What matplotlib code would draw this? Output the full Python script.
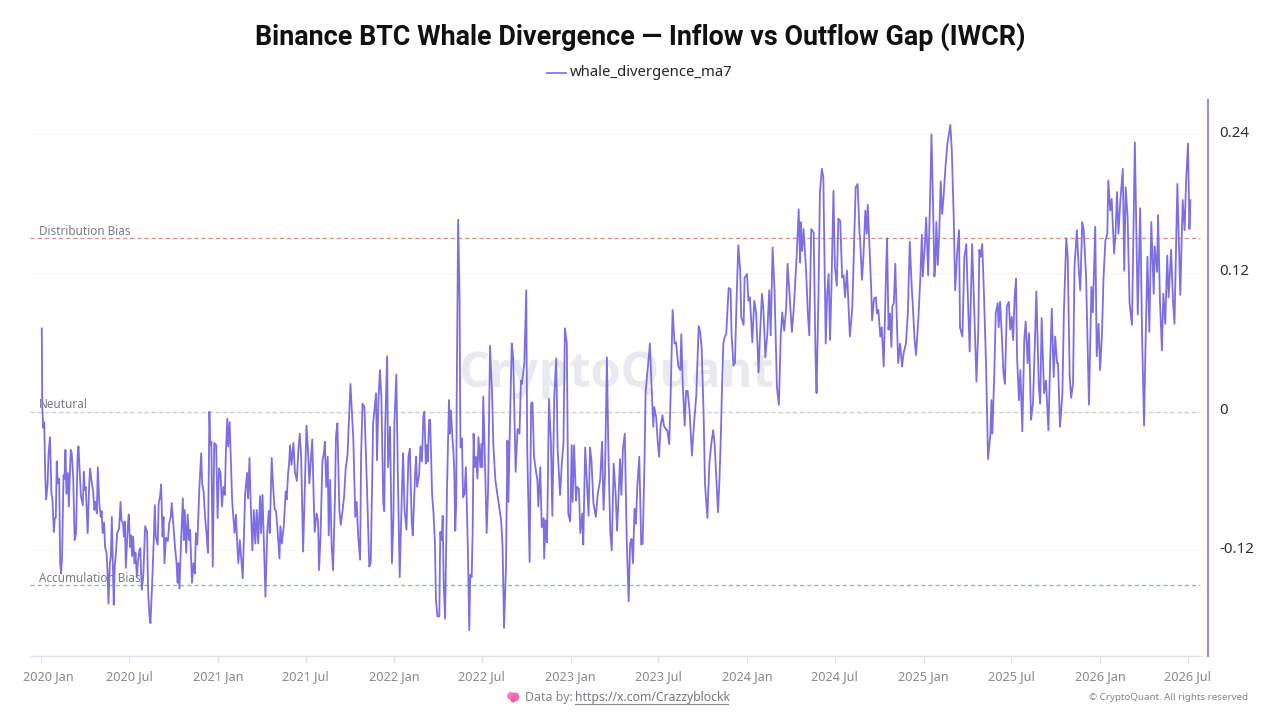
import matplotlib
matplotlib.use("Agg")
import matplotlib.pyplot as plt
import matplotlib.transforms as mtrans
from matplotlib.lines import Line2D
from matplotlib.patches import Ellipse
import pandas as pd

# Day offset from 2020-01-01 and the 7-day averaged whale divergence reading.
readings_2020_2022 = [
(1,.072),(2,.004),(4,-.014),(6,-.009),(8,-.053),(10,-.076),(13,-.063),(15,-.036),(18,-.022),(21,-.071),(23,-.075),(26,-.104),
(28,-.092),(30,-.092),(32,-.043),(34,-.062),(37,-.058),(39,-.131),(41,-.140),(43,-.125),(46,-.055),(48,-.058),(50,-.033),(52,-.071),
(55,-.053),(57,-.082),(59,-.056),(61,-.033),(63,-.036),(66,-.056),(69,-.111),(72,-.105),(75,-.039),(77,-.030),(79,-.048),(82,-.073),
(86,-.081),(88,-.052),(90,-.068),(92,-.065),(96,-.105),(99,-.065),(101,-.049),(104,-.060),(107,-.068),(110,-.085),(112,-.078),(115,-.088),
(117,-.048),(120,-.079),(123,-.091),(125,-.086),(127,-.105),(130,-.096),(132,-.117),(135,-.122),(137,-.137),(139,-.166),(142,-.131),(144,-.125),
(146,-.091),(148,-.131),(150,-.167),(152,-.134),(155,-.120),(157,-.105),(161,-.101),(164,-.078),(166,-.094),(169,-.096),(171,-.108),(173,-.095),
(175,-.135),(179,-.099),(181,-.089),(184,-.117),(186,-.107),(188,-.125),(190,-.108),(193,-.131),(195,-.122),(198,-.143),(200,-.130),(203,-.120),
(205,-.118),(206,-.131),(208,-.154),(211,-.143),(215,-.099),(219,-.104),(221,-.154),(224,-.177),(226,-.183),(230,-.143),(233,-.108),(235,-.081),
(237,-.108),(241,-.115),(243,-.079),(246,-.073),(248,-.063),(251,-.108),(253,-.091),(255,-.131),(258,-.109),(262,-.112),(265,-.096),(268,-.091),
(270,-.079),(273,-.096),(277,-.118),(280,-.131),(282,-.148),(284,-.131),(286,-.153),(290,-.105),(293,-.075),(295,-.111),(297,-.085),(300,-.122),
(303,-.089),(306,-.111),(308,-.102),(312,-.148),(315,-.131),(318,-.140),(320,-.105),(323,-.115),(327,-.068),(331,-.036),(333,-.062),(336,-.069),
(339,-.091),(342,-.105),(345,-.122),(348,0),(350,-.029),(352,-.026),(355,-.134),(358,-.027),(362,-.029),(365,-.092),(368,-.049),(371,-.053),
(374,-.082),(377,-.065),(380,-.072),(382,-.037),(385,-.006),(387,-.030),(390,-.009),(393,-.048),(395,-.076),(400,-.105),(403,-.089),(406,-.117),
(408,-.131),(411,-.111),(414,-.128),(417,-.144),(422,-.071),(426,-.053),(428,-.075),(431,-.040),(433,-.073),(437,-.120),(440,-.085),(443,-.114),
(446,-.085),(449,-.114),(453,-.073),(455,-.105),(458,-.072),(462,-.131),(464,-.160),(468,-.102),(471,-.086),(473,-.105),(477,-.040),(480,-.065),
(483,-.084),(486,-.086),(489,-.102),(493,-.127),(495,-.099),(498,-.114),(502,-.099),(506,-.069),(508,-.076),(511,-.053),(513,-.045),(515,-.029),
(518,-.046),(522,-.027),(525,-.052),(529,-.060),(532,-.035),(535,-.019),(538,-.039),(542,-.121),(545,-.073),(549,-.012),(552,-.032),(555,-.062),
(558,-.042),(561,-.024),(564,-.076),(566,-.104),(570,-.088),(573,-.095),(575,-.137),(578,-.108),(582,-.043),(585,-.036),(587,-.026),(590,-.065),
(593,-.039),(595,-.107),(598,-.059),(601,-.115),(604,-.137),(608,-.073),(610,-.022),(613,-.010),(617,-.085),(620,-.098),(623,-.088),(627,-.073),
(630,-.050),(634,-.037),(640,.024),(646,-.024),(649,-.076),(650,-.091),(653,-.078),(656,-.108),(660,-.128),(662,-.039),(665,.007),(669,.004),
(675,-.076),(679,-.134),(682,-.131),(687,-.010),(693,.016),(695,-.042),(698,.010),(701,.036),(704,.013),(708,-.079),(710,-.086),(712,-.013),
(716,.048),(718,-.048),(722,-.013),(726,-.131),(729,-.091),(731,-.010),(735,.032),(738,-.050),(742,-.143),(747,-.062),(749,-.036),(752,-.085),
(756,-.102),(760,-.039),(763,-.032),(767,-.096),(769,-.107),(774,-.053),(776,-.039),(778,-.065),(782,-.055),(785,-.030),(788,-.043),(791,-.004),
(793,0),(796,-.045),(798,-.029),(800,-.043),(803,-.007),
]
readings_2022_2024 = [
(805,-.007),(807,-.039),(809,-.071),(812,-.088),(815,-.114),(817,-.163),(820,-.177),(824,-.177),(826,-.104),(829,-.111),(831,-.090),(833,-.149),
(836,-.179),(840,-.065),(844,.010),(846,-.019),(848,.001),(851,-.022),(853,-.033),(855,-.051),(857,-.103),(859,-.079),(860,.013),(863,.166),
(866,.096),(867,.010),(868,-.031),(871,-.023),(873,-.074),(876,-.071),(879,-.048),(883,-.117),(886,-.189),(888,-.141),(891,-.143),(893,-.105),
(895,-.019),(897,-.048),(900,-.039),(903,-.058),(905,-.022),(909,-.048),(911,-.028),(913,-.048),(915,.013),(918,-.033),(922,-.105),(925,-.068),
(929,.057),(933,.019),(936,-.030),(940,-.059),(943,-.068),(949,-.085),(952,-.094),(955,-.117),(958,-.187),(962,-.134),(965,-.025),(967,-.078),
(971,.004),(974,.059),(977,.046),(982,-.052),(986,-.015),(990,-.019),(993,.027),(995,.024),(1000,.042),(1004,.105),(1006,-.033),(1011,-.130),
(1014,.007),(1017,.008),(1020,-.039),(1024,-.051),(1027,-.059),(1029,-.082),(1033,-.048),(1036,-.100),(1040,-.092),(1041,-.127),(1044,-.094),(1047,-.113),
(1049,-.048),(1051,.011),(1055,-.025),(1058,-.090),(1062,.013),(1066,.046),(1069,-.033),(1074,-.072),(1078,-.042),(1081,-.028),(1084,.072),(1088,.059),
(1091,-.088),(1095,-.095),(1098,-.029),(1100,-.078),(1103,-.029),(1107,-.077),(1109,-.065),(1113,-.067),(1116,-.105),(1120,-.088),(1122,-.115),(1126,-.031),
(1129,-.056),(1133,-.090),(1136,-.031),(1139,-.042),(1143,-.079),(1148,-.091),(1152,-.071),(1157,-.059),(1161,-.026),(1164,-.085),(1167,-.055),(1171,.047),
(1174,-.033),(1178,-.105),(1181,-.120),(1185,-.045),(1189,-.071),(1192,-.103),(1196,-.065),(1198,-.041),(1201,-.072),(1204,-.033),(1208,-.019),(1212,-.111),
(1216,-.164),(1219,-.114),(1222,-.110),(1225,-.131),(1228,-.084),(1231,-.097),(1234,-.064),(1238,-.039),(1242,-.115),(1245,-.114),(1249,-.039),(1251,.016),
(1254,.031),(1257,.044),(1260,.059),(1264,.016),(1267,-.013),(1269,.004),(1273,-.005),(1276,-.025),(1279,-.039),(1282,-.013),(1286,-.003),(1289,-.012),
(1294,-.016),(1296,-.016),(1300,-.028),(1303,.016),(1307,.088),(1311,.059),(1314,.060),(1319,.039),(1323,.036),(1325,.067),(1328,.024),(1332,-.012),
(1335,.018),(1338,.018),(1342,.001),(1347,-.038),(1351,-.012),(1356,.014),(1361,.074),(1364,.069),(1367,.056),(1371,.001),(1374,-.062),(1379,-.092),
(1383,-.045),(1387,-.028),(1391,-.016),(1394,-.028),(1397,-.054),(1401,-.087),(1404,-.059),(1407,-.019),(1409,.016),(1412,.059),(1415,.065),(1418,.067),
(1423,.107),(1427,.106),(1429,.067),(1433,.040),(1436,.042),(1440,.105),(1443,.144),(1447,.122),(1449,.082),(1454,.075),(1456,.116),(1461,.119),
(1464,.096),(1467,.099),(1472,.060),(1476,.096),(1480,.085),(1485,.034),(1488,.067),(1492,.102),(1495,.088),(1499,.047),(1503,.067),(1507,.105),
(1510,.066),(1514,.142),(1518,.105),(1523,.021),(1527,.006),(1531,.067),(1534,.086),(1538,.070),(1542,.089),(1545,.128),(1550,.096),(1554,.069),
(1558,.090),(1564,.136),(1568,.175),(1571,.129),(1572,.164),(1575,.139),(1578,.158),(1583,.125),(1587,.085),(1590,.066),(1594,.158),(1599,.155),
(1603,.044),(1605,.016),(1609,.102),(1612,.190),(1616,.210),(1619,.203),(1624,.059),(1627,.102),(1630,.119),(1633,.062),(1636,.111),(1640,.191),
(1643,.125),(1647,.109),(1650,.167),(1654,.165),(1658,.116),(1661,.118),(1664,.099),(1668,.122),(1674,.065),(1679,.090),(1683,.151),(1686,.194),
(1690,.197),(1694,.154),
]
readings_2024_2026 = [
(1695,.151),(1699,.114),(1702,.134),(1706,.174),(1709,.154),(1711,.179),(1714,.148),(1718,.108),(1720,.079),(1724,.098),(1728,.099),(1730,.085),
(1733,.088),(1737,.065),(1740,.073),(1744,.039),(1749,.122),(1751,.150),(1754,.071),(1757,.085),(1760,.056),(1762,.091),(1765,.094),(1768,.128),
(1771,.082),(1774,.042),(1778,.059),(1782,.039),(1785,.050),(1790,.059),(1794,.085),(1798,.147),(1802,.108),(1804,.094),(1808,.062),(1811,.049),
(1816,.082),(1820,.117),(1823,.153),(1825,.117),(1829,.143),(1832,.168),(1836,.118),(1840,.183),(1843,.240),(1846,.183),(1849,.117),(1851,.128),
(1853,.164),(1856,.127),(1859,.154),(1862,.199),(1865,.171),(1868,.186),(1872,.212),(1876,.232),(1879,.240),(1882,.248),(1885,.226),(1889,.168),
(1892,.105),(1896,.137),(1900,.157),(1902,.073),(1907,.065),(1911,.134),(1915,.145),(1918,.102),(1922,.052),(1927,.145),(1930,.108),(1936,.026),
(1940,.073),(1942,.140),(1945,.134),(1948,.145),(1952,.096),(1956,.039),(1960,-.041),(1965,-.019),(1967,.010),(1969,-.019),(1973,.033),(1976,.085),
(1980,.094),(1982,.073),(1985,.095),(1989,.062),(1992,.033),(1995,.024),(1999,.091),(2003,.095),(2006,.071),(2009,.082),(2012,.062),(2015,.099),
(2018,.115),(2020,.048),(2024,.010),(2027,.036),(2031,-.017),(2035,.062),(2038,.078),(2042,.042),(2045,.068),(2049,-.007),(2053,.007),(2057,.059),
(2060,.104),(2065,.024),(2068,.007),(2071,.081),(2076,.016),(2080,.027),(2085,-.016),(2089,.048),(2092,.089),(2096,.030),(2099,.065),(2103,.042),
(2105,.042),(2109,-.013),(2114,.016),(2117,.085),(2122,.150),(2125,.134),(2129,.032),(2132,.012),(2136,.024),(2139,.125),(2144,.157),(2148,.122),
(2151,.105),(2155,.164),(2158,.157),(2163,.117),(2169,.006),(2174,.108),(2177,.086),(2182,.160),(2185,.048),(2189,.076),(2192,.036),(2196,.068),
(2199,.115),(2203,.148),(2207,.154),(2209,.200),(2213,.174),(2216,.184),(2221,.137),(2224,.154),(2227,.190),(2230,.154),(2234,.183),(2239,.210),
(2242,.122),(2245,.194),(2249,.168),(2253,.094),(2258,.075),(2264,.233),(2270,.084),(2275,.176),(2279,.065),(2283,-.012),(2286,.056),(2290,.134),
(2294,.069),(2298,.164),(2303,.102),(2305,.143),(2310,.121),(2312,.170),(2316,.096),(2320,.053),(2323,.102),(2327,.076),(2331,.135),(2334,.099),
(2339,.140),(2343,.096),(2346,.076),(2352,.197),(2358,.101),(2363,.183),(2367,.157),(2370,.199),(2374,.232),(2377,.158),(2379,.183),
]

tick_months = ["2020-01-01", "2020-07-01", "2021-01-01", "2021-07-01", "2022-01-01", "2022-07-01", "2023-01-01",
               "2023-07-01", "2024-01-01", "2024-07-01", "2025-01-01", "2025-07-01", "2026-01-01", "2026-07-01"]
tick_labels = ["2020 Jan", "2020 Jul", "2021 Jan", "2021 Jul", "2022 Jan", "2022 Jul", "2023 Jan",
               "2023 Jul", "2024 Jan", "2024 Jul", "2025 Jan", "2025 Jul", "2026 Jan", "2026 Jul"]
value_ticks = [-0.12, 0, 0.12, 0.24]
value_tick_labels = ["-0.12", "0", "0.12", "0.24"]
bias_levels = [0.15, 0, -0.15]
bias_names = ["Distribution Bias", "Neutural", "Accumulation Bias"]
bias_colors = ["#dc8f8f", "#cfcfd4", "#80ca80"]

W, H = 1280, 720
plt.rcParams["font.family"] = ["Noto Sans", "DejaVu Sans"]
LINE = "#7d6ee3"


def fx(px):
    return px / W


def fy(py):
    return 1 - py / H


fig = plt.figure(figsize=(W / 100, H / 100), dpi=100, facecolor="white")
ax = fig.add_axes([fx(30), fy(656), fx(1202 - 30), (656 - 100) / H])

readings = readings_2020_2022 + readings_2022_2024 + readings_2024_2026
origin = pd.Timestamp("2020-01-01")
dates = [origin + pd.Timedelta(days=d) for d, _ in readings]
values = [v for _, v in readings]

ax.set_ylim(-0.2113, 0.2696)
ax.set_xlim(origin - pd.Timedelta(days=23.4), origin + pd.Timedelta(days=2403))

# Faint value gridlines stop just short of the plot edges.
span_start = origin - pd.Timedelta(days=19)
span_end = origin + pd.Timedelta(days=2398)
ax.hlines(value_ticks, span_start, span_end, color="#f6f6f9", lw=0.9, zorder=1)

# Watermark sits behind everything else in the plot.
ax.text(0.5, 0.506, "CryptoQuant", transform=ax.transAxes, ha="center", va="center",
        fontsize=35, fontweight="bold", family=["Open Sans", "DejaVu Sans"], color="#e9e9f0", zorder=0.5)

ax.hlines(bias_levels, origin - pd.Timedelta(days=23), span_end, colors=bias_colors,
          lw=0.95, linestyles=(0, (3.2, 2.2)), zorder=2)
for level, name in zip(bias_levels, bias_names):
    ax.annotate(name, xy=(origin, level), xytext=(-1.6, 0.2), textcoords="offset points",
                ha="left", va="bottom", fontsize=8.45, color="#7b7b82", zorder=2.5)

ax.plot(dates, values, color=LINE, lw=1.3, solid_joinstyle="round", zorder=3)

for side in ("top", "left"):
    ax.spines[side].set_visible(False)
ax.spines["bottom"].set_color("#e1e3ec")
ax.spines["bottom"].set_linewidth(1.0)
ax.spines["right"].set_position(("outward", 4.3))
ax.spines["right"].set_color("#9a8ecb")
ax.spines["right"].set_linewidth(1.5)

ax.set_xticks([pd.Timestamp(t) for t in tick_months])
ax.set_xticklabels(tick_labels)
ax.tick_params(axis="x", length=5, width=0.9, color="#e1e3ec", labelsize=9.1, labelcolor="#88888e", pad=4.8)
ax.xaxis.get_ticklabels()[0].set_transform(
    ax.xaxis.get_ticklabels()[0].get_transform()
    + mtrans.ScaledTranslation(7.4 / 100, 0, fig.dpi_scale_trans))

ax.yaxis.tick_right()
ax.set_yticks(value_ticks)
ax.set_yticklabels(value_tick_labels)
ax.tick_params(axis="y", length=0, labelsize=10.8, labelcolor="#2e2e33", pad=8)
shift = mtrans.ScaledTranslation(0, 3 / 100, fig.dpi_scale_trans)
for lab in ax.yaxis.get_ticklabels():
    lab.set_transform(lab.get_transform() + shift)

fig.text(fx(640), fy(37), "Binance BTC Whale Divergence — Inflow vs Outflow Gap (IWCR)", ha="center", va="center",
         fontsize=19.4, fontweight="bold", family=["Roboto", "DejaVu Sans"], color="#111114")

fig.add_artist(Line2D([fx(547), fx(566)], [fy(73), fy(73)], color="#8f82e6", lw=1.4))
fig.text(fx(570), fy(73), "whale_divergence_ma7", ha="left", va="center", fontsize=10.7, color="#26262a")

# Footer: small pink brain glyph, source link and copyright.
for cx, cy, w, h, col in [(511, 696, 8, 8, "#f47fc0"), (515, 697, 9, 9, "#ef6cb4"), (513, 700, 5, 5, "#e85fa8")]:
    fig.add_artist(Ellipse((fx(cx), fy(cy)), w / W, h / H, color=col, transform=fig.transFigure, lw=0))
fig.text(fx(525), fy(697), "Data by:", ha="left", va="center", fontsize=8.9, color="#85858c")
fig.text(fx(575), fy(697), "https://x.com/Crazzyblockk", ha="left", va="center", fontsize=8.8, color="#77777e")
fig.add_artist(Line2D([fx(575), fx(728)], [fy(703.5), fy(703.5)], color="#8a8a90", lw=0.8))
fig.text(fx(1248), fy(698), "© CryptoQuant. All rights reserved", ha="right", va="center", fontsize=7.05, color="#85858c")

fig.savefig("out.png", dpi=100, facecolor="white")
